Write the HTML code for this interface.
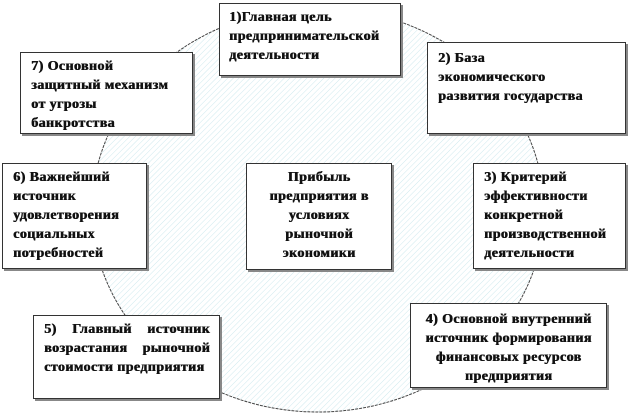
<!DOCTYPE html>
<html><head><meta charset="utf-8"><style>
body{margin:0;width:629px;height:416px;background:#fff;position:relative;overflow:hidden;font-family:"Liberation Serif","Noto Serif CJK SC",serif;}
.b{position:absolute;background:#fff;border:1px solid #333;box-shadow:2px 2px 0 #888;box-sizing:border-box;font-weight:bold;font-size:14px;letter-spacing:0.4px;line-height:19px;color:#111;text-shadow:0.6px 0 0 #111;padding:4px 6px;white-space:nowrap;}
</style></head><body>
<svg width="629" height="416" style="position:absolute;left:0;top:0">
<defs><pattern id="h" width="4" height="4" patternUnits="userSpaceOnUse" patternTransform="rotate(45)"><line x1="0" y1="0" x2="0" y2="4" stroke="#cfe9ee" stroke-width="1"/></pattern></defs>
<ellipse cx="318" cy="210" rx="226" ry="202" fill="url(#h)" stroke="#444" stroke-width="1" stroke-dasharray="3,1"/>
</svg>
<div class="b" style="left:219px;top:3px;width:182px;height:73px;padding-left:9px">1)Главная цель<br>предпринимательской<br>деятельности</div>
<div class="b" style="left:20px;top:52px;width:173px;height:82px;padding-left:10px">7) Основной<br>защитный механизм<br>от угрозы<br>банкротства</div>
<div class="b" style="left:427px;top:42px;width:199px;height:92px;padding-left:10px;padding-top:6px">2) База<br>экономического<br>развития государства</div>
<div class="b" style="left:2px;top:163px;width:145px;height:106px;padding-left:10px">6) Важнейший<br>источник<br>удовлетворения<br>социальных<br>потребностей</div>
<div class="b" style="left:246px;top:163px;width:146px;height:107px;text-align:center">Прибыль<br>предприятия в<br>условиях<br>рыночной<br>экономики</div>
<div class="b" style="left:473px;top:163px;width:153px;height:106px;padding-left:10px">3) Критерий<br>эффективности<br>конкретной<br>производственной<br>деятельности</div>
<div class="b" style="left:33px;top:315px;width:187px;height:84px;padding:4px 9px 4px 10px;">
<div style="display:flex;justify-content:space-between"><span>5)</span><span>Главный</span><span>источник</span></div>
<div style="display:flex;justify-content:space-between"><span>возрастания</span><span>рыночной</span></div>
<div>стоимости предприятия</div></div>
<div class="b" style="left:410px;top:303px;width:197px;height:85px;text-align:center;padding:6px 2px 0 2px">4) Основной внутренний<br>источник формирования<br>финансовых ресурсов<br>предприятия</div>
</body></html>
